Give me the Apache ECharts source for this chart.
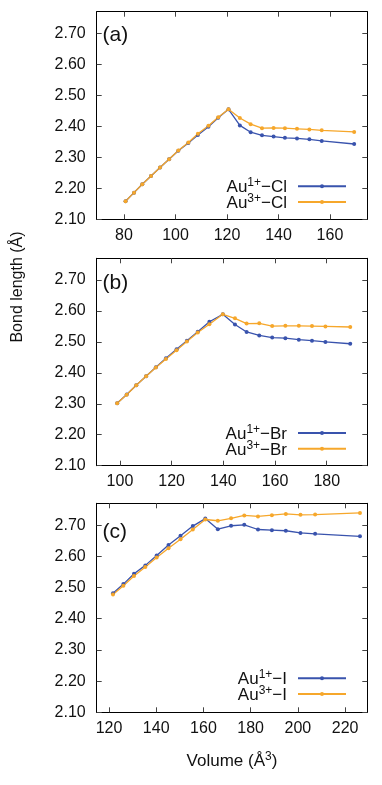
<!DOCTYPE html>
<html>
<head>
<meta charset="utf-8">
<script src="https://cdn.jsdelivr.net/npm/echarts@6/dist/echarts.min.js"></script>
<style>
  html, body { margin: 0; padding: 0; background: #fff; }
  #chart { width: 382px; height: 785px; }
</style>
</head>
<body>
<div id="chart"></div>
<script>
// 数据 (a) Au-Cl
const volA = [80.6, 83.9, 87.1, 90.5, 94.0, 97.5, 101.1, 105.0, 108.7, 112.8, 116.6, 120.6, 125.0, 129.2, 133.6, 138.1, 142.5, 147.2, 152.0, 156.8, 169.4];
const auCl1 = [2.158, 2.186, 2.213, 2.240, 2.267, 2.294, 2.321, 2.346, 2.372, 2.399, 2.428, 2.455, 2.403, 2.381, 2.371, 2.367, 2.363, 2.361, 2.358, 2.353, 2.343];
const auCl3 = [2.158, 2.186, 2.213, 2.240, 2.267, 2.294, 2.322, 2.348, 2.376, 2.402, 2.429, 2.455, 2.427, 2.407, 2.394, 2.395, 2.394, 2.392, 2.390, 2.387, 2.382];

// 数据 (b) Au-Br
const volB = [98.9, 102.6, 106.3, 110.1, 113.9, 117.8, 121.9, 125.9, 130.1, 134.6, 139.8, 144.5, 149.0, 153.9, 158.9, 164.0, 169.2, 174.3, 179.5, 189.1];
const auBr1 = [2.302, 2.330, 2.360, 2.389, 2.418, 2.447, 2.476, 2.504, 2.533, 2.565, 2.589, 2.556, 2.532, 2.521, 2.514, 2.512, 2.507, 2.504, 2.500, 2.494];
const auBr3 = [2.302, 2.329, 2.360, 2.389, 2.417, 2.445, 2.473, 2.501, 2.530, 2.557, 2.589, 2.576, 2.559, 2.560, 2.551, 2.552, 2.552, 2.551, 2.550, 2.548];

// 数据 (c) Au-I
const volC = [121.7, 126.1, 130.6, 135.4, 140.2, 145.2, 150.3, 155.5, 160.8, 166.1, 171.7, 177.3, 183.1, 189.0, 194.9, 201.1, 207.3, 226.3];
const auI1 = [2.482, 2.511, 2.544, 2.571, 2.603, 2.636, 2.666, 2.697, 2.721, 2.687, 2.698, 2.701, 2.686, 2.684, 2.682, 2.675, 2.672, 2.664];
const auI3 = [2.478, 2.506, 2.537, 2.566, 2.596, 2.626, 2.655, 2.686, 2.718, 2.714, 2.722, 2.731, 2.728, 2.732, 2.736, 2.733, 2.734, 2.739];

// 刻度
const xTicksA = [80, 100, 120, 140, 160];
const xTicksB = [100, 120, 140, 160, 180];
const xTicksC = [120, 140, 160, 180, 200, 220];
const yTicks = [2.1, 2.2, 2.3, 2.4, 2.5, 2.6, 2.7];
const xRanges = [[69.4, 174.5], [91, 195.7], [114.8, 229.4]];
const yRange = [2.1, 2.77];

const panelLabels = ['(a)', '(b)', '(c)'];
const halides = ['Cl', 'Br', 'I'];

const FONT = '"Liberation Sans", Arial, sans-serif';
const BLUE = '#3953ad';
const ORANGE = '#f6a72b';
const TEXT = '#111';

const chart = echarts.init(document.getElementById('chart'));

const grids = [
  { left: 96.7, right: 14.7, top: 11.7, height: 207.6 },
  { left: 96.7, right: 14.7, top: 258.3, height: 207.4 },
  { left: 96.7, right: 14.7, top: 503.3, height: 209 }
];

const axisLine = { show: true, onZero: false, lineStyle: { color: '#000', width: 1 } };
const tickStyle = { color: '#444', width: 1 };

// 四边都有刻度 (gnuplot 风格)
const makeX = (i, ticks) => {
  const base = {
    type: 'value', gridIndex: i, min: xRanges[i][0], max: xRanges[i][1],
    axisLine, splitLine: { show: false },
    axisTick: { inside: true, length: 5, customValues: ticks, lineStyle: tickStyle }
  };
  return [
    { ...base, position: 'bottom',
      axisLabel: { customValues: ticks, fontSize: 16, fontFamily: FONT, color: TEXT, margin: 8 } },
    { ...base, position: 'top', axisLabel: { show: false } }
  ];
};
const makeY = (i) => {
  const base = {
    type: 'value', gridIndex: i, min: yRange[0], max: yRange[1],
    axisLine, splitLine: { show: false },
    axisTick: { inside: true, length: 5, customValues: yTicks, lineStyle: tickStyle }
  };
  return [
    { ...base, position: 'left',
      axisLabel: { customValues: yTicks, fontSize: 16, fontFamily: FONT, color: TEXT, margin: 11,
        formatter: v => v.toFixed(2) } },
    { ...base, position: 'right', axisLabel: { show: false } }
  ];
};

const line = (name, xs, ys, color, i) => ({
  type: 'line', name,
  xAxisIndex: 2 * i, yAxisIndex: 2 * i,
  data: xs.map((x, k) => [x, ys[k]]),
  symbol: 'circle', symbolSize: 4,
  lineStyle: { width: 1.3, color },
  itemStyle: { color },
  animation: false
});

const seriesNames = halides.map(h => ['1+-' + h, '3+-' + h]);
const legendTops = [176.3, 423, 668.3];

const option = {
  backgroundColor: '#fff',
  grid: grids,
  xAxis: [...makeX(0, xTicksA), ...makeX(1, xTicksB), ...makeX(2, xTicksC)],
  yAxis: [...makeY(0), ...makeY(1), ...makeY(2)],
  legend: [0, 1, 2].map(i => ({
    data: seriesNames[i],
    orient: 'vertical', align: 'right',
    right: 35, top: legendTops[i],
    // itemHeight 小一点, 图例里的点也就小
    itemWidth: 48, itemHeight: 5, itemGap: -4.3,
    padding: 0,
    formatter: name => {
      const [ch, h] = name.split('-');
      return '{a|Au}{s|' + ch + '}{a|\u2212' + h + '}';
    },
    textStyle: {
      padding: [0, 6, 0, 0],
      rich: {
        a: { fontSize: 17, fontFamily: FONT, color: TEXT, lineHeight: 19, padding: [3, 0, 0, 0] },
        s: { fontSize: 12, fontFamily: FONT, color: TEXT, lineHeight: 12, verticalAlign: 'top' }
      }
    }
  })),
  series: [
    line(seriesNames[0][0], volA, auCl1, BLUE, 0),
    line(seriesNames[0][1], volA, auCl3, ORANGE, 0),
    line(seriesNames[1][0], volB, auBr1, BLUE, 1),
    line(seriesNames[1][1], volB, auBr3, ORANGE, 1),
    line(seriesNames[2][0], volC, auI1, BLUE, 2),
    line(seriesNames[2][1], volC, auI3, ORANGE, 2)
  ],
  graphic: [
    ...panelLabels.map((t, i) => ({
      type: 'text', x: 102.5, y: [35, 283, 532][i],
      style: { text: t, fontSize: 21, fontFamily: FONT, fill: TEXT, textVerticalAlign: 'middle' }
    })),
    {
      type: 'text', x: 18, y: 287, rotation: Math.PI / 2,
      style: { text: 'Bond length (\u00c5)', fontSize: 16, fontFamily: FONT, fill: TEXT,
        textAlign: 'center', textVerticalAlign: 'middle' }
    },
    {
      type: 'text', x: 232, y: 760,
      style: {
        text: '{a|Volume (\u00c5}{s|3}{a|)}',
        textAlign: 'center', textVerticalAlign: 'middle',
        rich: {
          a: { fontSize: 17, fontFamily: FONT, fill: TEXT, lineHeight: 18, padding: [3, 0, 0, 0] },
          s: { fontSize: 12, fontFamily: FONT, fill: TEXT, lineHeight: 12, verticalAlign: 'top' }
        }
      }
    }
  ]
};

chart.setOption(option);
window.addEventListener('resize', () => chart.resize());
</script>
</body>
</html>
